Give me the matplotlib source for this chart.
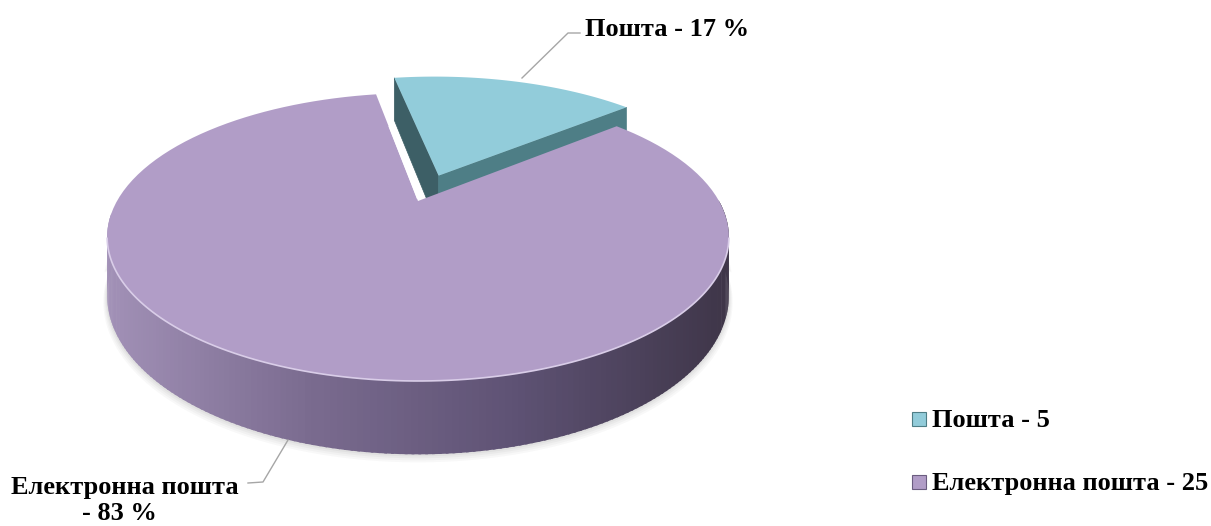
import numpy as np
import matplotlib.pyplot as plt
from matplotlib.patches import Polygon, Rectangle
from matplotlib.colors import LinearSegmentedColormap

labels = ['Пошта', 'Електронна пошта']
values = [5, 25]
top_colors = ['#92ccda', '#b19dc7']
cut_colors = [('#4e7e86', '#3d5f66'), ('#6b5d80', '#6b5d80')]
explode = [0.21, 0.0]

# projection of the tilted disk (pixel space, perspective)
cx, cy = 418, 201
A, B, K = 301, 135, 0.25
depth = 55
start = 100.0   # degrees, slices run clockwise


def proj(u, w, z=0.0):
    W = 1 + K * w
    return cx + A * u / W, cy - B * w / W + z / W


def arc(ox, ow, a0, a1, z=0.0, n=120):
    t = np.radians(np.linspace(a0, a1, n))
    return np.array([proj(ox + np.cos(t[i]), ow + np.sin(t[i]), z) for i in range(n)])


plt.rcParams['font.family'] = ['Liberation Serif', 'DejaVu Serif']
fig = plt.figure(figsize=(12.11, 5.26), dpi=100)
ax = fig.add_axes([0, 0, 1, 1])
ax.set_xlim(0, 1211)
ax.set_ylim(526, 0)
ax.axis('off')

total = sum(values)
spans = [360.0 * v / total for v in values]
bounds = []
a = start
for s in spans:
    bounds.append((a - s, a))
    a -= s

# soft shadow under the pie
for i, al in enumerate([0.05, 0.05, 0.06, 0.08]):
    pts = arc(0, 0, 180, 360, depth + 6 - 1.5 * i)
    pts = np.vstack([arc(0, 0, 170, 190, depth - 10), pts, arc(0, 0, 350, 370, depth - 10)])
    pts[:, 0] = cx + (pts[:, 0] - cx) * (1.012 - 0.003 * i)
    ax.add_patch(Polygon(pts, closed=True, fc='#777777', ec='none', alpha=al))

wall_cmap = LinearSegmentedColormap.from_list('wall', ['#a291b7', '#7a6b8f', '#5e5274', '#3f3649'])

# Пошта (exploded, behind) then Електронна пошта
for i in [0, 1]:
    a0, a1 = bounds[i]
    mid = np.radians((a0 + a1) / 2)
    ou, ow = explode[i] * np.cos(mid), explode[i] * np.sin(mid)
    apex_t = proj(ou, ow)
    apex_b = proj(ou, ow, depth)

    if i == 0:
        # the two cut faces of the exploded slice
        for ang, col in [(a1, cut_colors[0][1]), (a0, cut_colors[0][0])]:
            r = np.radians(ang)
            ct = proj(ou + np.cos(r), ow + np.sin(r))
            cb = proj(ou + np.cos(r), ow + np.sin(r), depth)
            ax.add_patch(Polygon([apex_t, ct, cb, apex_b], closed=True, fc=col, ec=col, lw=0.5))
    else:
        # outer wall in strips, shaded left to right
        angs = np.linspace(185, 360, 180)
        for j in range(len(angs) - 1):
            p = arc(ou, ow, angs[j], angs[j + 1] + 0.4, 0, 3)
            q = arc(ou, ow, angs[j], angs[j + 1] + 0.4, depth, 3)
            poly = np.vstack([p, q[::-1]])
            xm = poly[:, 0].mean()
            c = wall_cmap(np.clip((xm - 105) / 620, 0, 1))
            ax.add_patch(Polygon(poly, closed=True, fc=c, ec='none'))

    top = np.vstack([[apex_t], arc(ou, ow, a0, a1)])
    ax.add_patch(Polygon(top, closed=True, fc=top_colors[i], ec='none'))

# light rims on the front edge and the notch of the big slice
rim = arc(0, 0, 195, 345)
ax.plot(rim[:, 0], rim[:, 1], color='#d9cde8', lw=1.2)
r = np.radians(bounds[1][0])
p0 = proj(0.02 * np.cos(r), 0.02 * np.sin(r))
p1 = proj(0.66 * np.cos(r), 0.66 * np.sin(r))
ax.plot([p0[0] + 2, p1[0] + 2], [p0[1], p1[1]], color='white', lw=3, solid_capstyle='butt')

# data labels with leader lines
pct = [round(100 * v / total) for v in values]
fs = 19
ax.plot([522, 568, 580], [78, 33, 33], color='#a6a6a6', lw=1)
ax.text(585, 36, f'{labels[0]} - {pct[0]} %', fontsize=fs, fontweight='bold',
        ha='left', va='baseline')
ax.plot([288, 263, 248], [440, 482, 483], color='#a6a6a6', lw=1)
ax.text(125, 494, labels[1], fontsize=fs, fontweight='bold', ha='center', va='baseline')
ax.text(119, 520, f'- {pct[1]} %', fontsize=fs, fontweight='bold', ha='center', va='baseline')

# legend
leg_y = [427, 490]
for i in range(2):
    ax.add_patch(Rectangle((912, leg_y[i] - 15), 14, 14, fc=top_colors[i],
                           ec=cut_colors[i][0], lw=0.8))
    ax.text(932, leg_y[i], f'{labels[i]} - {values[i]}', fontsize=fs,
            fontweight='bold', ha='left', va='baseline')

fig.savefig('out.png', dpi=100)
